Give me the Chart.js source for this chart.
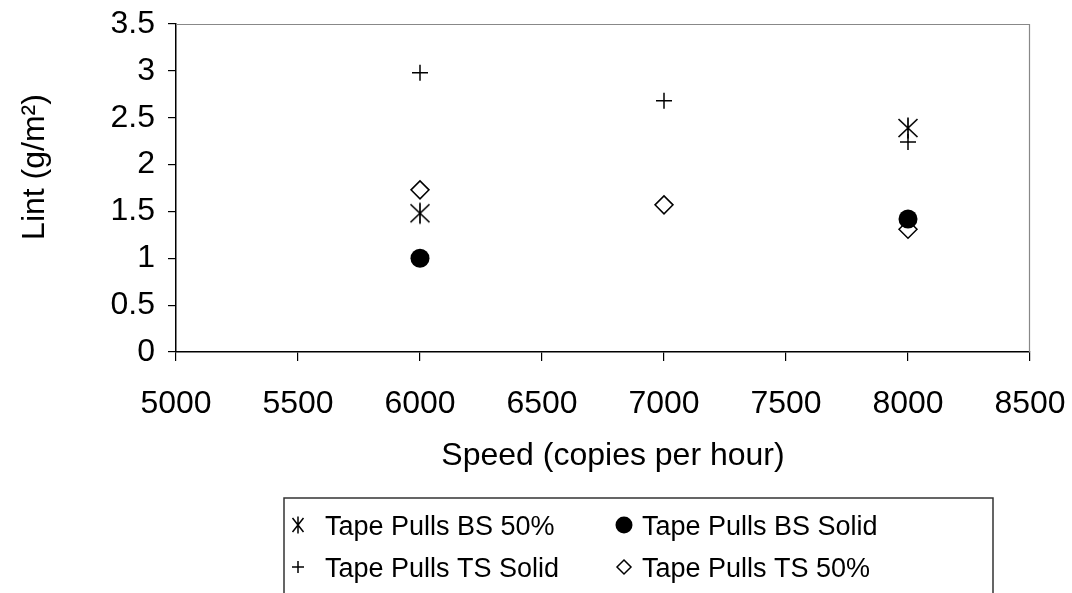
<!DOCTYPE html>
<html>
<head>
<meta charset="utf-8">
<script src="https://cdn.jsdelivr.net/npm/chart.js@4"></script>
<style>
  html, body { margin: 0; padding: 0; background: #fff; }
  #wrap { width: 1072px; height: 593px; }
</style>
</head>
<body>
<div id="wrap"><canvas id="lintChart" width="1072" height="593"></canvas></div>
<script>
// data
const seriesNames = ['Tape Pulls BS 50%', 'Tape Pulls BS Solid', 'Tape Pulls TS Solid', 'Tape Pulls TS 50%'];
const speedBS50 = [6000, 8000];
const lintBS50 = [1.48, 2.39];
const speedBSSolid = [6000, 8000];
const lintBSSolid = [1.0, 1.42];
const speedTSSolid = [6000, 7000, 8000];
const lintTSSolid = [2.98, 2.68, 2.24];
const speedTS50 = [6000, 7000, 8000];
const lintTS50 = [1.73, 1.57, 1.31];
const xTicks = [5000, 5500, 6000, 6500, 7000, 7500, 8000, 8500];
const yTicks = [0, 0.5, 1, 1.5, 2, 2.5, 3, 3.5];

const FONT = 'Liberation Sans, Arial, sans-serif';

function pts(xs, ys) {
    return xs.map((x, i) => ({ x: x, y: ys[i] }));
}

// asterisk marker (X plus vertical bar) like the Excel one
function drawAsterisk(ctx, cx, cy, w, h) {
    ctx.beginPath();
    ctx.moveTo(cx, cy - h / 2); ctx.lineTo(cx, cy + h / 2);
    ctx.moveTo(cx - w / 2, cy - h / 2 + 1.5); ctx.lineTo(cx + w / 2, cy + h / 2 - 1.5);
    ctx.moveTo(cx + w / 2, cy - h / 2 + 1.5); ctx.lineTo(cx - w / 2, cy + h / 2 - 1.5);
    ctx.stroke();
}

function asteriskImage(w, h) {
    const c = document.createElement('canvas');
    c.width = w + 3; c.height = h + 3;
    const ctx = c.getContext('2d');
    ctx.strokeStyle = '#000';
    ctx.lineWidth = 1.7;
    drawAsterisk(ctx, c.width / 2, c.height / 2, w, h);
    return c;
}

function drawMarker(ctx, kind, x, y) {
    ctx.save();
    ctx.strokeStyle = '#000';
    ctx.fillStyle = '#000';
    ctx.lineWidth = 1.5;
    if (kind === 0) {
        drawAsterisk(ctx, x, y, 11, 17);
    } else if (kind === 1) {
        ctx.beginPath(); ctx.arc(x, y, 8.5, 0, Math.PI * 2); ctx.fill();
    } else if (kind === 2) {
        ctx.beginPath();
        ctx.moveTo(x - 6, y); ctx.lineTo(x + 6, y);
        ctx.moveTo(x, y - 6); ctx.lineTo(x, y + 6);
        ctx.stroke();
    } else {
        ctx.fillStyle = '#fff';
        ctx.beginPath();
        ctx.moveTo(x, y - 7); ctx.lineTo(x + 7, y); ctx.lineTo(x, y + 7); ctx.lineTo(x - 7, y);
        ctx.closePath(); ctx.fill(); ctx.stroke();
    }
    ctx.restore();
}

// frame, axis titles and boxed legend
const extras = {
    id: 'extras',
    beforeDatasetsDraw(chart) {
        const ctx = chart.ctx;
        const a = chart.chartArea;
        ctx.save();
        ctx.strokeStyle = '#888';
        ctx.lineWidth = 1.2;
        ctx.beginPath();
        ctx.moveTo(a.left, a.top + 0.5);
        ctx.lineTo(a.right - 0.5, a.top + 0.5);
        ctx.lineTo(a.right - 0.5, a.bottom);
        ctx.stroke();
        ctx.restore();
    },
    afterDraw(chart) {
        const ctx = chart.ctx;
        ctx.save();
        ctx.fillStyle = '#000';
        ctx.font = '32px ' + FONT;
        ctx.textAlign = 'center';
        ctx.textBaseline = 'alphabetic';
        ctx.fillText('Speed (copies per hour)', 613, 465);

        ctx.translate(44, 167);
        ctx.rotate(-Math.PI / 2);
        ctx.fillText('Lint (g/m\u00B2)', 0, 0);
        ctx.restore();

        // legend box
        ctx.save();
        ctx.strokeStyle = '#333';
        ctx.lineWidth = 1.5;
        ctx.beginPath();
        ctx.moveTo(284, 600);
        ctx.lineTo(284, 498);
        ctx.lineTo(993, 498);
        ctx.lineTo(993, 600);
        ctx.stroke();

        ctx.font = '27px ' + FONT;
        ctx.fillStyle = '#000';
        ctx.textAlign = 'left';
        ctx.textBaseline = 'alphabetic';
        const cols = [[298, 325], [624, 642]];
        const rows = [535, 577];
        chart.data.datasets.forEach((ds, i) => {
            const c = cols[i % 2];
            const r = rows[Math.floor(i / 2)];
            drawMarker(ctx, i, c[0], r - 10);
            ctx.fillText(ds.label, c[1], r);
        });
        ctx.restore();
    }
};

new Chart(document.getElementById('lintChart'), {
    type: 'scatter',
    data: {
        datasets: [
            {
                label: seriesNames[0],
                data: pts(speedBS50, lintBS50),
                pointStyle: asteriskImage(19, 21),
                pointRadius: 10,
                borderColor: '#000',
                backgroundColor: '#000'
            },
            {
                label: seriesNames[1],
                data: pts(speedBSSolid, lintBSSolid),
                pointStyle: 'circle',
                pointRadius: 9.5,
                borderWidth: 0,
                borderColor: '#000',
                backgroundColor: '#000'
            },
            {
                label: seriesNames[2],
                data: pts(speedTSSolid, lintTSSolid),
                pointStyle: 'cross',
                pointRadius: 8,
                borderWidth: 1.5,
                borderColor: '#000',
                backgroundColor: '#000'
            },
            {
                label: seriesNames[3],
                data: pts(speedTS50, lintTS50),
                pointStyle: 'rectRot',
                pointRadius: 9,
                borderWidth: 1.5,
                borderColor: '#000',
                backgroundColor: '#fff'
            }
        ]
    },
    options: {
        responsive: false,
        animation: false,
        layout: { padding: { left: 0, top: 24, right: 42, bottom: 141 } },
        plugins: {
            legend: { display: false },
            tooltip: { enabled: false }
        },
        scales: {
            x: {
                type: 'linear',
                min: xTicks[0],
                max: xTicks[xTicks.length - 1],
                afterBuildTicks: axis => { axis.ticks = xTicks.map(v => ({ value: v })); },
                afterFit: axis => {
                    axis.height = 100;
                    axis.paddingLeft = 0;
                    axis.paddingRight = 0;
                },
                grid: { drawOnChartArea: false, drawTicks: true, tickLength: 9, color: '#000', lineWidth: 1.2 },
                border: { color: '#000', width: 1.5 },
                ticks: {
                    color: '#000',
                    font: { family: FONT, size: 32 },
                    padding: 24,
                    maxRotation: 0,
                    autoSkip: false,
                    callback: v => String(v)
                }
            },
            y: {
                type: 'linear',
                min: yTicks[0],
                max: yTicks[yTicks.length - 1],
                afterBuildTicks: axis => { axis.ticks = yTicks.map(v => ({ value: v })); },
                afterFit: axis => {
                    axis.width = 176;
                    axis.paddingTop = 0;
                    axis.paddingBottom = 0;
                },
                grid: { drawOnChartArea: false, drawTicks: true, tickLength: 8, color: '#000', lineWidth: 1.2 },
                border: { color: '#000', width: 1.5 },
                ticks: {
                    color: '#000',
                    font: { family: FONT, size: 32 },
                    padding: 13,
                    autoSkip: false,
                    callback: v => String(v)
                }
            }
        }
    },
    plugins: [extras]
});
</script>
</body>
</html>
